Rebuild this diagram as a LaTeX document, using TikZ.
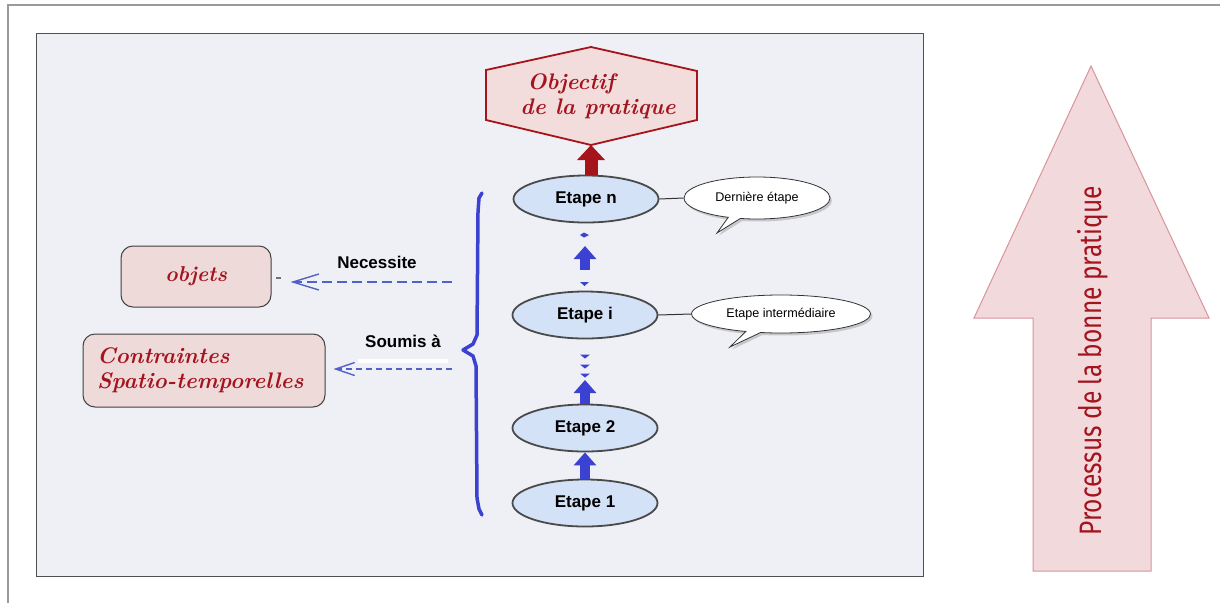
\documentclass[tikz,border=0pt]{standalone}
\usepackage{fontspec}
\setsansfont{Liberation Sans}
\newfontfamily\firafont{Fira Sans}
\usetikzlibrary{shapes.geometric,shapes.callouts,arrows.meta,shadows}
\definecolor{panelbg}{HTML}{EEF0F6}
\definecolor{panelborder}{HTML}{505050}
\definecolor{framegray}{HTML}{9A9A9A}
\definecolor{etapefill}{HTML}{D4E2F7}
\definecolor{etapeborder}{HTML}{4A4A4A}
\definecolor{arrowblue}{HTML}{3B42D2}
\definecolor{dashblue}{HTML}{5262C6}
\definecolor{darkred}{HTML}{A3141E}
\definecolor{arrowred}{HTML}{A5141B}
\definecolor{hexfill}{HTML}{F2DCDC}
\definecolor{boxfill}{HTML}{EFDADA}
\definecolor{bigfill}{HTML}{F2DADC}
\definecolor{bigborder}{HTML}{D9949B}
\begin{document}
\begin{tikzpicture}[x=1pt,y=-1pt,
  etape/.style={ellipse, draw=etapeborder, line width=1.8pt, fill=etapefill,
    minimum width=145pt, minimum height=47pt, inner sep=0pt,
    font=\sffamily\bfseries\fontsize{17}{17}\selectfont},
  bubble/.style={ellipse callout, draw=black!80, line width=0.8pt, fill=white,
    inner sep=0pt, callout pointer arc=10,
    drop shadow={opacity=0.35, shadow xshift=2pt, shadow yshift=-2.5pt},
    font=\sffamily\fontsize{12.6}{12.6}\selectfont},
  bluearrow/.style={draw=arrowblue, line width=10pt, -{Triangle[length=13pt,width=22pt]}},
  redarrow/.style={draw=arrowred, line width=13pt, -{Triangle[length=15pt,width=27pt]}},
  pinkbox/.style={rectangle, rounded corners=12pt, draw=black!75, line width=1pt,
    fill=boxfill, inner sep=0pt, text=darkred,
    font=\bfseries\itshape\fontsize{21.5}{25}\selectfont},
  dashline/.style={draw=dashblue, line width=1.4pt},
  lbl/.style={font=\sffamily\bfseries\fontsize{17}{17}\selectfont},
  chev/.style={fill=arrowblue},
  thinline/.style={draw=black!80, line width=1pt}
]
\useasboundingbox (0,0) rectangle (1220,603);
\fill[white] (0,0) rectangle (1220,603);
% outer frame
\draw[framegray, line width=2pt] (1220,5) -- (8,5) -- (8,603);
% panel
\draw[fill=panelbg, draw=panelborder, line width=1pt] (36,33) rectangle (923,576);

% hexagon
\draw[fill=hexfill, draw=arrowred, line width=1.8pt]
  (486,70) -- (591,47) -- (697,71) -- (697,120) -- (591,145) -- (486,120) -- cycle;
\coordinate (hexbot) at (591,145);
\node[align=left, text=darkred, font=\bfseries\itshape\fontsize{22.5}{25}\selectfont] (obj) at (598,96)
  {\hspace*{7pt}Objectif\\de la pratique};

% etapes
\node[etape] (en) at (586,199) {Etape n};
\node[etape] (ei) at (585,315) {Etape i};
\node[etape] (e2) at (585,428) {Etape 2};
\node[etape] (e1) at (585,503) {Etape 1};

% red arrow
\draw[redarrow] (hexbot |- en.north) -- (hexbot);

% blue arrows
\draw[bluearrow] (e1.north) -- (e2.south);
\coordinate (d2) at (585,380);
\draw[bluearrow] (e2.north) -- (d2);
\foreach \yy in {356,366,375}{
  \fill[chev] (580,\yy-1.5) -- (590,\yy-1.5) -- (585,\yy+2.5) -- cycle;}
\coordinate (d3s) at (585,270);
\coordinate (d3) at (585,246);
\draw[bluearrow] (d3s) -- (d3);
\fill[chev] (580,235) -- (584,232.5) -- (589,235) -- (584,237.5) -- cycle;
\fill[chev] (580,282) -- (589,282) -- (584.5,286) -- cycle;

% callouts
\node[bubble, minimum width=146pt, minimum height=42pt,
  callout absolute pointer={(717,233)}] (c1) at (757,198) {Dernière étape};
\node[bubble, minimum width=179pt, minimum height=38pt,
  callout absolute pointer={(730,347)}] (c2) at (781,314) {Etape intermédiaire};
\draw[thinline] (en.east) -- (c1.west);
\draw[thinline] (ei.east) -- (c2.west);

% brace
\draw[arrowblue, line width=3.5pt, line join=round, line cap=round]
  (482,193) -- (479,198) -- (478,212) -- (477,335) -- (473,344) -- (463,350)
  -- (473,356) -- (476,366) -- (477,498) -- (479,509) -- (482,515);
\coordinate (bt) at (463,350);

% left boxes
\node[pinkbox, minimum width=150pt, minimum height=61pt] (objets) at (196,276.5) {objets};
\node[pinkbox, minimum width=242pt, minimum height=73pt, text width=214pt, align=left,
  font=\bfseries\itshape\fontsize{22.5}{25}\selectfont]
  (ctr) at (204,370.5) {Contraintes\\Spatio-temporelles};

% labels and dashed connectors
\node[lbl] (nec) at (377,262) {Necessite};
\node[lbl] (sou) at (403,341) {Soumis à};
\fill[white] (358,359) rectangle (448,363);
\coordinate (n0) at (452,282);
\coordinate (s0) at (452,369);
\draw[dashline, dash pattern=on 10pt off 5pt,
  -{Straight Barb[length=26pt,width=16pt,line width=1.4pt]}, shorten >=19pt]
  (n0) -- (objets.east |- n0);
\draw[dashline, dash pattern=on 6pt off 4pt,
  -{Straight Barb[length=19pt,width=13pt,line width=1.4pt]}, shorten >=8pt]
  (s0) -- (ctr.east |- s0);
\draw[black!55, line width=1.5pt] (276,278) -- (281,278);

% big arrow
\draw[fill=bigfill, draw=bigborder, line width=1pt]
  (1033,571) -- (1033,318) -- (974,318) -- (1091,66) -- (1209,318) -- (1151,318)
  -- (1151,571) -- cycle;
\node[rotate=90, text=darkred] (proc) at (1093,361)
  {\scalebox{0.79}[1]{\firafont\fontsize{31}{31}\selectfont Processus de la bonne pratique}};
\end{tikzpicture}
\end{document}
